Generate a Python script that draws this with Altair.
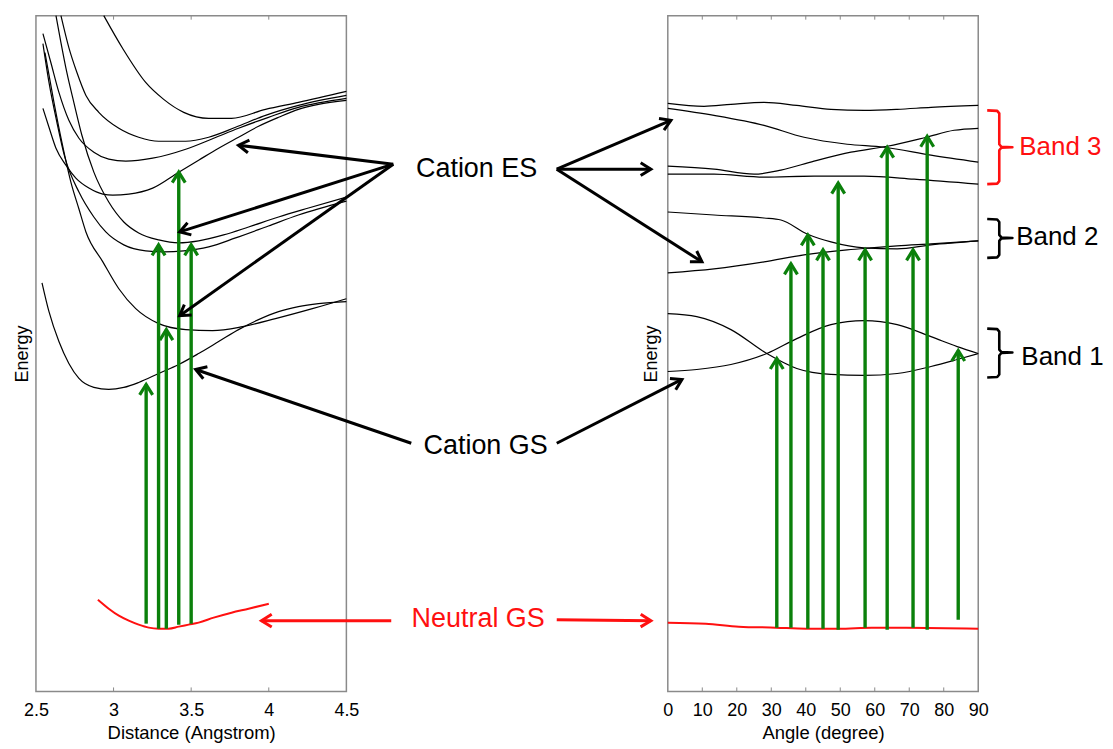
import math
import altair as alt
import pandas as pd

FONT = "Liberation Sans"
W = 311            # plot width of each panel (px)
H = 677            # plot height (px)
E_MAX = 678        # energy axis domain (arbitrary units)
GREEN = "#0b800b"
RED = "#ff1010"
GRAY = "#8a8a8a"
CHEVRON = "M-0.62,1L0,0L0.62,1"

# ---------------- axis ticks ----------------
dist_ticks = [2.5, 3.0, 3.5, 4.0, 4.5]
angle_ticks = [0, 10, 20, 30, 40, 50, 60, 70, 80, 90]
dist_inner_ticks = [3.0, 3.5, 4.0]
angle_inner_ticks = [10, 20, 30, 40, 50, 60, 70, 80]
TICK_LEN = 4

# ---------------- left panel: cation curves vs distance ----------------
es1_x = [2.937, 3.059, 3.207, 3.323, 3.452, 3.613, 3.760, 3.979, 4.191, 4.5]
es1_e = [678, 645, 611, 594, 581, 575, 575, 584, 591, 602]
es2_x = [2.661, 2.712, 2.764, 2.822, 2.905, 3.034, 3.162, 3.291, 3.465, 3.613, 3.786, 3.979, 4.191, 4.5]
es2_e = [678, 646, 621, 598, 581, 565, 556, 552, 552, 556, 566, 578, 588, 598]
es3_x = [2.545, 2.596, 2.648, 2.712, 2.777, 2.873, 2.969, 3.079, 3.252, 3.465, 3.645, 3.805, 3.998, 4.191, 4.5]
es3_e = [660, 631, 601, 573, 555, 541, 534, 532, 535, 544, 555, 565, 576, 586, 595]
es4_x = [2.545, 2.584, 2.629, 2.693, 2.757, 2.841, 2.931, 2.995, 3.098, 3.252, 3.420, 3.548, 3.677,
         3.805, 3.934, 4.063, 4.191, 4.320, 4.5]
es4_e = [585, 566, 545, 528, 515, 505, 499, 498, 499, 505, 521, 533, 545, 556, 567, 576, 584, 589, 593]
es5_x = [2.629, 2.661, 2.699, 2.744, 2.796, 2.873, 2.969, 3.066, 3.162, 3.291, 3.420, 3.548, 3.709,
         3.870, 4.063, 4.256, 4.5]
es5_e = [678, 651, 621, 591, 558, 521, 491, 471, 460, 453, 450, 452, 458, 466, 476, 485, 496]
es6_x = [2.545, 2.584, 2.635, 2.686, 2.777, 2.873, 2.950, 3.066, 3.207, 3.323, 3.452, 3.613, 3.786,
         3.998, 4.191, 4.5]
es6_e = [650, 611, 571, 536, 501, 476, 461, 448, 442, 441, 442, 446, 455, 467, 478, 492]
es7_x = [2.558, 2.616, 2.667, 2.725, 2.777, 2.822, 2.931, 3.034, 3.143, 3.291, 3.465, 3.638, 3.831,
         4.043, 4.281, 4.5]
es7_e = [641, 591, 551, 511, 484, 461, 431, 404, 384, 369, 363, 362, 366, 374, 384, 394]
gs_x = [2.539, 2.584, 2.648, 2.712, 2.777, 2.873, 2.969, 3.066, 3.162, 3.291, 3.420, 3.548, 3.677,
        3.805, 3.934, 4.063, 4.191, 4.320, 4.5]
gs_e = [410, 381, 351, 329, 314, 305, 303, 305, 310, 319, 328, 339, 351, 363, 373, 381, 386, 389, 391]

neutral_l_x = [2.899, 2.969, 3.034, 3.098, 3.162, 3.227, 3.291, 3.355, 3.420, 3.484, 3.548, 3.645,
               3.760, 3.870, 4.0]
neutral_l_e = [92, 83, 76, 71, 67, 64, 63, 63, 65, 67, 69, 74, 79, 83, 88]

exc_l_x = [3.21, 3.29, 3.34, 3.42, 3.50]
exc_l_from = [68, 63, 63, 67, 68]
exc_l_to = [308, 448, 363, 521, 448]

# ---------------- right panel: cation curves vs angle ----------------
r1_x = [0, 10.5, 18.3, 27.9, 37.4, 47.3, 56.9, 66.5, 76.3, 90]
r1_e = [590, 587, 589, 591, 588, 584, 583, 584, 586, 588]
r2_x = [0, 13.4, 27.9, 39.5, 52.0, 62.7, 76.3, 90]
r2_e = [585, 578, 568, 556, 549, 546, 538, 531]
r3_x = [0, 13.4, 25.0, 32.8, 42.4, 53.1, 63.6, 74.9, 83.0, 90]
r3_e = [527, 524, 519, 523, 532, 541, 547, 556, 563, 565]
r4_x = [0, 13.4, 27.9, 42.4, 56.9, 71.4, 90]
r4_e = [519, 519, 516, 517, 517, 514, 509]
r5_x = [0, 13.4, 27.9, 32.8, 40.4, 47.3, 56.9, 66.5, 76.3, 90]
r5_e = [481, 478, 475, 473, 459, 451, 445, 444, 448, 452]
r6_x = [0, 13.4, 27.9, 39.5, 52.0, 58.9, 66.5, 76.3, 90]
r6_e = [420, 424, 431, 438, 443, 445, 447, 449, 452]
r7_x = [0, 8.4, 18.3, 28.7, 37.4, 47.3, 56.9, 66.5, 76.3, 83.9, 90]
r7_e = [379, 376, 363, 339, 324, 318, 317, 319, 326, 333, 339]
r8_x = [0, 8.4, 18.3, 28.7, 37.4, 47.3, 56.9, 66.5, 76.3, 83.9, 90]
r8_e = [321, 323, 328, 339, 354, 368, 372, 368, 356, 346, 339]

neutral_r_x = [0, 11.0, 20.6, 31.3, 40.0, 49.6, 59.2, 69.1, 90]
neutral_r_e = [69, 68, 65, 64, 63, 63, 64, 64, 63]

exc_r_x = [31.6, 35.7, 40.6, 45.0, 49.4, 57.2, 63.6, 71.1, 75.2, 84.2]
exc_r_from = [64, 64, 63, 63, 62, 64, 62, 64, 62, 72]
exc_r_to = [334, 429, 458, 443, 510, 443, 546, 443, 557, 342]

# ---------------- annotations ----------------
mid_labels = ["Cation ES", "Cation GS", "Neutral GS"]
mid_label_x = [5.339, 5.397, 5.349]
mid_label_e = [524, 246, 73]
mid_label_col = ["black", "black", RED]

ptr_l_x0 = [4.802, 4.802, 4.802, 4.918, 4.789]
ptr_l_e0 = [529, 529, 529, 249, 71]
ptr_l_x1 = [3.805, 3.426, 3.426, 3.529, 3.953]
ptr_l_e1 = [548, 461, 377, 323, 71]
ptr_l_col = ["black", "black", "black", "black", RED]

ptr_r_x0 = [-32.2, -32.2, -32.2, -32.2, -32.2]
ptr_r_e0 = [524, 524, 524, 249, 72]
ptr_r_x1 = [0.9, -4.9, 9.9, 4.1, -4.9]
ptr_r_e1 = [573, 524, 431, 313, 71]
ptr_r_col = ["black", "black", "black", "black", RED]

band_labels = ["Band 3", "Band 2", "Band 1"]
band_label_x = [101.9, 101.0, 102.5]
band_label_e = [546.5, 455.5, 336]
band_col = [RED, "black", "black"]

brace_x = [92.6, 95.5, 96.1, 96.1, 96.7, 99.9, 96.7, 96.1, 96.1, 95.5, 92.6]
brace3_e = [583, 582.5, 580, 549, 546.5, 546, 545.5, 543, 512, 509.5, 509]
brace2_e = [474, 473.5, 471, 458, 455.5, 455, 454.5, 452, 438, 435.5, 435]
brace1_e = [364, 363.5, 361, 343, 340.5, 340, 339.5, 337, 318, 315.5, 315]


# ---------------- helpers ----------------
def curve_frame(curves):
    rows = []
    for name, (xs, es) in curves.items():
        for i, (x, e) in enumerate(zip(xs, es)):
            rows.append({"curve": name, "i": i, "x": x, "E": e})
    return pd.DataFrame(rows)


def arrow_frames(x0, e0, x1, e1, col, px_per_x):
    shafts, heads = [], []
    for a, b, c, d, k in zip(x0, e0, x1, e1, col):
        dx = (c - a) * px_per_x
        de = (d - b) * (H / E_MAX)
        ang = math.degrees(math.atan2(dx, de)) % 360
        shafts.append({"x": a, "E": b, "x2": c, "E2": d, "col": k})
        heads.append({"x": c, "E": d, "ang": ang, "col": k})
    return pd.DataFrame(shafts), pd.DataFrame(heads)


def make_panel(domain, ticks, fmt, inner_ticks, xtitle, ytitle_pad, curves, neutral, exc, arrows,
               texts, braces, text_size):
    xs = alt.X("x:Q", scale=alt.Scale(domain=domain, nice=False, zero=False),
               axis=alt.Axis(values=ticks, format=fmt, ticks=False, domain=False, grid=False,
                             labelFont=FONT, labelFontSize=18, labelColor="black", labelPadding=10,
                             labelFlush=False, labelOverlap=False,
                             title=xtitle, titleFont=FONT, titleFontSize=18.5, titleFontWeight="normal",
                             titleColor="black", titlePadding=4))
    ys = alt.Y("E:Q", scale=alt.Scale(domain=[0, E_MAX], nice=False, zero=False),
               axis=alt.Axis(labels=False, ticks=False, domain=False, grid=False, minExtent=0,
                             title="Energy", titleFont=FONT, titleFontSize=18, titleFontWeight="normal",
                             titleColor="black", titlePadding=ytitle_pad))

    layers = []
    layers.append(alt.Chart(curve_frame(curves)).mark_line(
        color="black", strokeWidth=1.2, interpolate="monotone").encode(
        x=xs, y=ys, detail="curve:N", order=alt.Order("i:Q")))
    layers.append(alt.Chart(pd.DataFrame({"x": neutral[0], "E": neutral[1], "i": range(len(neutral[0]))}))
                  .mark_line(color=RED, strokeWidth=2, interpolate="monotone").encode(
        x=xs, y=ys, order=alt.Order("i:Q")))

    tk = pd.DataFrame({"x": inner_ticks * 2,
                       "E": [E_MAX] * len(inner_ticks) + [0] * len(inner_ticks),
                       "E2": [E_MAX - TICK_LEN] * len(inner_ticks) + [TICK_LEN] * len(inner_ticks)})
    layers.append(alt.Chart(tk).mark_rule(color=GRAY, strokeWidth=1).encode(
        x=xs, y=ys, y2=alt.Y2("E2:Q")))

    ex = pd.DataFrame({"x": exc[0], "E": exc[1], "E2": exc[2]})
    layers.append(alt.Chart(ex).mark_rule(color=GREEN, strokeWidth=3.4).encode(
        x=xs, y=ys, y2=alt.Y2("E2:Q")))
    exh = pd.DataFrame({"x": exc[0], "E": exc[2]})
    layers.append(alt.Chart(exh).mark_point(shape=CHEVRON, filled=False, size=440, strokeWidth=3.2,
                                            color=GREEN, opacity=1).encode(x=xs, y=ys))

    if braces:
        rows = []
        for name, (bx, be, col) in braces.items():
            for i, (a, b) in enumerate(zip(bx, be)):
                rows.append({"band": name, "i": i, "x": a, "E": b, "col": col})
        layers.append(alt.Chart(pd.DataFrame(rows)).mark_line(
            strokeWidth=2.6, clip=False, strokeJoin="round").encode(
            x=xs, y=ys, detail="band:N", order=alt.Order("i:Q"),
            color=alt.Color("col:N", scale=None)))

    shafts, heads = arrows
    layers.append(alt.Chart(shafts).mark_rule(strokeWidth=3, clip=False).encode(
        x=xs, y=ys, x2=alt.X2("x2:Q"), y2=alt.Y2("E2:Q"), color=alt.Color("col:N", scale=None)))
    layers.append(alt.Chart(heads).mark_point(shape=CHEVRON, filled=False, size=420, strokeWidth=3,
                                              opacity=1, clip=False).encode(
        x=xs, y=ys, angle=alt.Angle("ang:Q", scale=None), color=alt.Color("col:N", scale=None)))

    for tdf, align in texts:
        layers.append(alt.Chart(tdf).mark_text(font=FONT, fontSize=text_size, align=align,
                                               baseline="middle", clip=False).encode(
            x=xs, y=ys, text="label:N", color=alt.Color("col:N", scale=None)))

    return alt.layer(*layers).properties(width=W, height=H)


left_curves = {"es1": (es1_x, es1_e), "es2": (es2_x, es2_e), "es3": (es3_x, es3_e),
               "es4": (es4_x, es4_e), "es5": (es5_x, es5_e), "es6": (es6_x, es6_e),
               "es7": (es7_x, es7_e), "gs": (gs_x, gs_e)}
right_curves = {"r1": (r1_x, r1_e), "r2": (r2_x, r2_e), "r3": (r3_x, r3_e), "r4": (r4_x, r4_e),
                "r5": (r5_x, r5_e), "r6": (r6_x, r6_e), "r7": (r7_x, r7_e), "r8": (r8_x, r8_e)}

left_arrows = arrow_frames(ptr_l_x0, ptr_l_e0, ptr_l_x1, ptr_l_e1, ptr_l_col, W / 2.0)
right_arrows = arrow_frames(ptr_r_x0, ptr_r_e0, ptr_r_x1, ptr_r_e1, ptr_r_col, W / 90.0)

mid_text = pd.DataFrame({"x": mid_label_x, "E": mid_label_e, "label": mid_labels, "col": mid_label_col})
band_text = pd.DataFrame({"x": band_label_x, "E": band_label_e, "label": band_labels, "col": band_col})

left = make_panel([2.5, 4.5], dist_ticks, "~g", dist_inner_ticks, "Distance (Angstrom)", 4,
                  left_curves, (neutral_l_x, neutral_l_e), (exc_l_x, exc_l_from, exc_l_to),
                  left_arrows, [(mid_text, "center")], None, 27)
right = make_panel([0, 90], angle_ticks, "d", angle_inner_ticks, "Angle (degree)", 7,
                   right_curves, (neutral_r_x, neutral_r_e), (exc_r_x, exc_r_from, exc_r_to),
                   right_arrows, [(band_text, "left")],
                   {"b3": (brace_x, brace3_e, RED), "b2": (brace_x, brace2_e, "black"),
                    "b1": (brace_x, brace1_e, "black")}, 26)

chart = alt.hconcat(left, right, spacing=322, bounds="flush").properties(
    padding={"left": 5, "top": 3, "right": 0, "bottom": 0}
).configure(font=FONT).configure_view(stroke=GRAY, strokeWidth=1.5)

chart.save("out.html", embed_options={"renderer": "svg", "actions": False})
